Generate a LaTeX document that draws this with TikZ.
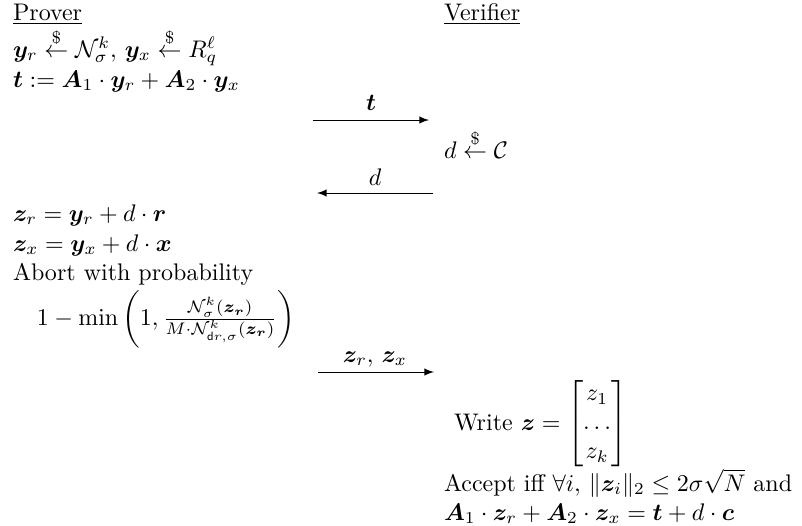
\documentclass[tikz,border=0pt]{standalone}
\usepackage{amsmath,amssymb,bm}
\begin{document}
\begin{tikzpicture}[x=0.41667pt,y=-0.41667pt,
  txt/.style={anchor=base west,inner sep=0pt,outer sep=0pt},
  lbl/.style={anchor=base,inner sep=0pt,outer sep=0pt},
  msg/.style={-latex,line width=0.4pt}]
\useasboundingbox (0,0) rectangle (802,525);
\node[txt] (prover) at (13,20) {\underline{Prover}};
\node[txt] (verifier) at (444,20) {\underline{Verifier}};
\node[txt] (l1) at (13,57) {$\bm{y}_r \stackrel{\$}{\leftarrow} \mathcal{N}_\sigma^k,\, \bm{y}_x \stackrel{\$}{\leftarrow} R_q^\ell$};
\node[txt] (l2) at (13,87) {$\bm{t} := \bm{A}_1\cdot\bm{y}_r + \bm{A}_2\cdot\bm{y}_x$};
\coordinate (t1) at (313,120);
\coordinate (t2) at (429,120);
\draw[msg] (t1) -- (t2);
\node[lbl] (tl) at (371,110) {$\bm{t}$};
\node[txt] (ch) at (444,158) {$d \stackrel{\$}{\leftarrow} \mathcal{C}$};
\coordinate (d1) at (433,193);
\coordinate (d2) at (317,193);
\draw[msg] (d1) -- (d2);
\node[lbl] (dl) at (375,185) {$d$};
\node[txt] (zr) at (13,221) {$\bm{z}_r = \bm{y}_r + d\cdot\bm{r}$};
\node[txt] (zx) at (13,251) {$\bm{z}_x = \bm{y}_x + d\cdot\bm{x}$};
\node[txt] (ab) at (13,280) {Abort with probability};
\node[txt] (pr) at (37,325) {$1-\min\bigg(1,\frac{\mathcal{N}_\sigma^k(\bm{z_r})}{M\cdot\mathcal{N}_{\mathsf{d}r,\sigma}^k(\bm{z_r})}\bigg)$};
\coordinate (z1) at (318,372);
\coordinate (z2) at (434,372);
\draw[msg] (z1) -- (z2);
\node[lbl] (zl) at (375,362) {$\bm{z}_r,\,\bm{z}_x$};
\node[txt] (wr) at (454,430) {Write $\bm{z} = \begin{bmatrix} z_1\\ \dots\\ z_k\end{bmatrix}$};
\node[txt] (acc) at (444,491) {Accept iff $\forall i,\, \|\bm{z}_i\|_2 \le 2\sigma\sqrt{N}$ and};
\node[txt] (eq) at (444,520) {$\bm{A}_1\cdot\bm{z}_r + \bm{A}_2\cdot\bm{z}_x = \bm{t} + d\cdot\bm{c}$};
\end{tikzpicture}
\end{document}
